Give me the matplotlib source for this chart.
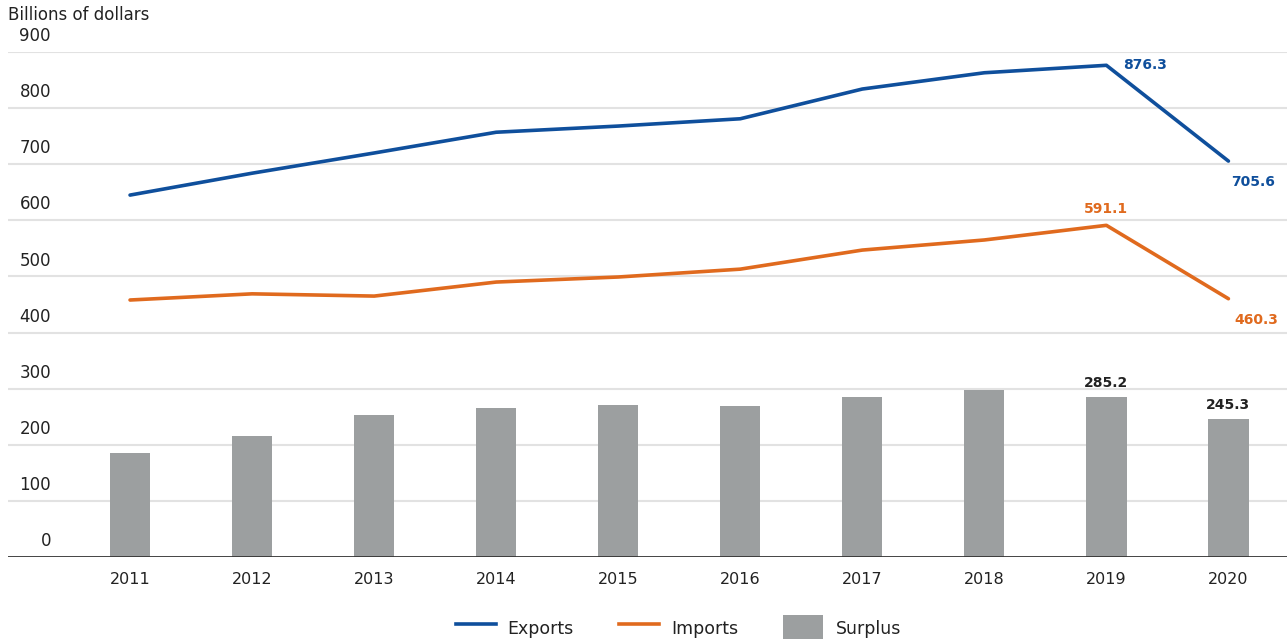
import matplotlib.pyplot as plt
from matplotlib.lines import Line2D
from matplotlib.patches import Patch
import numpy as np

years = ['2011', '2012', '2013', '2014', '2015', '2016', '2017', '2018', '2019', '2020']
exports = [645, 684, 720, 757, 768, 781, 834, 863, 876.3, 705.6]
imports = [458, 469, 465, 490, 499, 513, 547, 565, 591.1, 460.3]
surplus = [185, 216, 253, 266, 271, 269, 285, 298, 285.2, 245.3]
yticks = [0, 100, 200, 300, 400, 500, 600, 700, 800, 900]

blue = '#0f4f9c'
orange = '#e06a1e'
gray = '#9c9fa0'
txt = '#222222'

plt.rcParams['font.family'] = ['DejaVu Sans']

fig = plt.figure(figsize=(12.87, 6.39), dpi=100)
ax = fig.add_axes([8 / 1287, 1 - 557 / 639, 1 - 8 / 1287, (557 - 52) / 639])

x = np.arange(len(years))
ax.bar(x, surplus, width=0.33, color=gray, zorder=2)
ax.plot(x, exports, color=blue, lw=2.6, zorder=3, clip_on=False, solid_capstyle='round')
ax.plot(x, imports, color=orange, lw=2.6, zorder=3, clip_on=False, solid_capstyle='round')

ax.set_xlim(-1, 9.48)
ax.set_ylim(0, 900)
for t in yticks[1:]:
    ax.axhline(t, color='#e2e2e2', lw=1.5, zorder=1)
ax.axhline(0, color='#333333', lw=2, zorder=4)

for t in yticks:
    ax.annotate(str(t), (51 / 1287, t), xycoords=('figure fraction', 'data'),
                xytext=(0, 5), textcoords='offset points', ha='right', va='bottom',
                fontsize=12, color=txt)

ax.set_xticks(x)
ax.set_xticklabels(years, fontsize=11.5, color=txt)
ax.tick_params(axis='x', length=0, pad=11)
ax.set_yticks([])
for s in ax.spines.values():
    s.set_visible(False)

fig.text(8 / 1287, 1 - 15 / 639, 'Billions of dollars', fontsize=12, color=txt, va='center')

# value labels
ax.annotate('876.3', (8, exports[8]), xytext=(12, 0), textcoords='offset points',
            ha='left', va='center', fontsize=10, fontweight='bold', color=blue)
ax.annotate('705.6', (9, exports[9]), xytext=(2, -15), textcoords='offset points',
            ha='left', va='center', fontsize=10, fontweight='bold', color=blue)
ax.annotate('591.1', (8, imports[8]), xytext=(0, 12), textcoords='offset points',
            ha='center', va='center', fontsize=10, fontweight='bold', color=orange)
ax.annotate('460.3', (9, imports[9]), xytext=(4, -15), textcoords='offset points',
            ha='left', va='center', fontsize=10, fontweight='bold', color=orange)
for i in (8, 9):
    ax.annotate(f'{surplus[i]:.1f}', (i, surplus[i]), xytext=(0, 10), textcoords='offset points',
                ha='center', va='center', fontsize=10, fontweight='bold', color=txt)

handles = [Line2D([], [], color=blue, lw=2.6),
           Line2D([], [], color=orange, lw=2.6),
           Patch(facecolor=gray)]
fig.legend(handles, ['Exports', 'Imports', 'Surplus'], loc='center', ncol=3,
           bbox_to_anchor=(0.527, 1 - 628 / 639), frameon=False, fontsize=12.5,
           handlelength=2.3, handleheight=2.0, handletextpad=0.7,
           columnspacing=2.6, labelcolor=txt)

fig.savefig('out.png', dpi=100)
